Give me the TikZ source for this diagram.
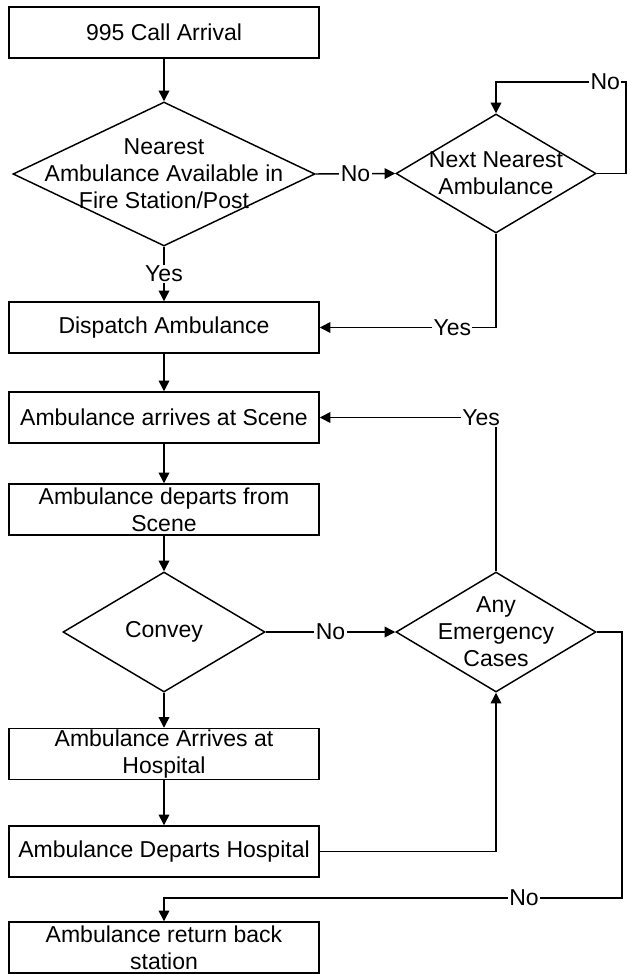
\documentclass[tikz,border=0pt]{standalone}
\usepackage{fontspec}
\setmainfont{Liberation Sans}
\usetikzlibrary{shapes.geometric,arrows.meta}
\newcommand{\flowfont}{\fontsize{17.25}{20.25}\selectfont}

\begin{document}
\begin{tikzpicture}[x=0.75pt, y=-0.75pt, line width=1.1pt]
  % --- the constants everything else is placed on ---------------------------
  \def\cx{164}   % main column, one step per row
  \def\rx{496}   % right column, the two side decisions

  \tikzset{
    proc/.style={draw, rectangle, minimum width=232.5pt, minimum height=38.25pt,
      inner xsep=2pt, inner ysep=0pt, align=center, font=\flowfont},
    decision/.style={draw, diamond, inner sep=0pt},
    dtext/.style={align=center, font=\flowfont, inner sep=0pt},
    flow/.style={-{Triangle[length=8pt,width=8pt]}},
    lbl/.style={fill=white, inner sep=1pt, font=\flowfont}}

  \useasboundingbox (0,0) rectangle (627,974);

  % ---- 1. the main column -------------------------------------------------
  \node[proc] (call) at (\cx,32.5) {995 Call Arrival};
  \node[decision, minimum width=226.5pt, minimum height=108pt,
    label={[dtext]center:Nearest\\Ambulance Available in\\Fire Station/Post}]
    (nearest) at (\cx,174) {};
  \node[proc] (dispatch) at (\cx,327.5) {Dispatch Ambulance};
  \node[proc] (atscene) at (\cx,417.5) {Ambulance arrives at Scene};
  \node[proc] (fromscene) at (\cx,509.5) {Ambulance departs from\\Scene};
  \node[decision, minimum width=151.5pt, minimum height=90pt,
    label={[dtext]center:Convey}] (convey) at (\cx,632) {};
  \node[proc] (athosp) at (\cx,754) {Ambulance Arrives at\\Hospital};
  \node[proc] (fromhosp) at (\cx,851.5) {Ambulance Departs Hospital};
  \node[proc] (returnstn) at (\cx,947.5) {Ambulance return back\\station};

  % ---- 2. the right column ------------------------------------------------
  \node[decision, minimum width=150pt, minimum height=89.25pt,
    label={[dtext]center:Next Nearest\\Ambulance}] (nextnearest) at (\rx,173.5) {};
  \node[decision, minimum width=150pt, minimum height=90pt,
    label={[dtext]center:Any\\Emergency\\Cases}] (anycases) at (\rx,632) {};

  % corners of the two loops on the far right
  \coordinate (loopNo) at (626,82);
  \coordinate (retNo) at (622,898);

  % ---- 3. straight down ---------------------------------------------------
  \draw[flow] (call) -- (nearest.north);
  \draw[flow] (nearest.south) -- node[lbl]{Yes} (dispatch);
  \draw[flow] (dispatch) -- (atscene);
  \draw[flow] (atscene) -- (fromscene);
  \draw[flow] (fromscene) -- (convey.north);
  \draw[flow] (convey.south) -- (athosp);
  \draw[flow] (athosp) -- (fromhosp);

  % ---- 4. the branches ----------------------------------------------------
  \draw[flow] (nearest.east) -- node[lbl]{No} (nextnearest.west);
  \draw[flow] (nextnearest.east) -| (loopNo)
    -| node[lbl, pos=0.08]{No} (nextnearest.north);
  \draw[flow] (nextnearest.south) |- node[lbl, pos=0.624]{Yes} (dispatch.east);
  \draw[flow] (convey.east) -- node[lbl]{No} (anycases.west);
  \draw[flow] (anycases.north) |- node[lbl, pos=0.542]{Yes} (atscene.east);
  \draw[flow] (fromhosp.east) -| (anycases.south);
  \draw[flow] (anycases.east) -| (retNo)
    -| node[lbl, pos=0.107]{No} (returnstn.north);
\end{tikzpicture}
\end{document}
